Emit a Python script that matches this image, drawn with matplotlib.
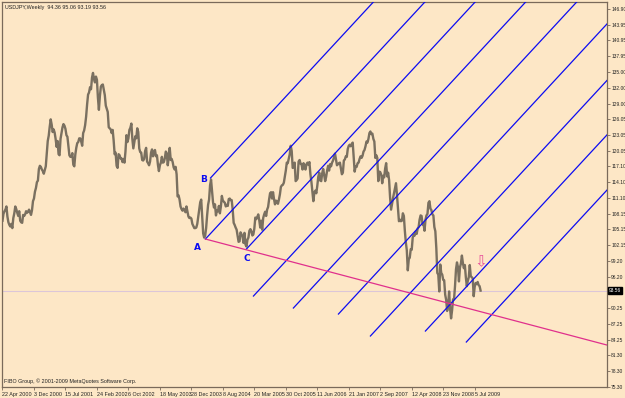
import numpy as np
import matplotlib
matplotlib.use('Agg')
import matplotlib.pyplot as plt

plt.rcParams['font.family'] = ['Liberation Sans Narrow', 'Liberation Sans', 'DejaVu Sans']

# weekly closes USDJPY, first bar = week of 22 Apr 2000
close_2000 = [106.8, 108.1,
              108.6, 108.9, 109.5, 107.6,
              106.5, 106.0, 105.7, 106.2,
              105.4, 107.3, 108.2, 109.5, 109.0,
              108.3, 107.7, 108.6, 106.8,
              106.5, 106.4, 107.9, 107.7, 108.0,
              108.6, 108.3, 108.5, 108.9,
              108.4, 107.9, 108.8, 110.5,
              111.0, 112.3, 113.0, 114.1, 114.4]
close_2001 = [116.6, 117.2, 117.0, 116.5,
              116.2, 115.7, 116.4, 117.1,
              119.6, 121.9, 122.9, 124.6, 126.0,
              125.0, 123.6, 124.1, 123.5,
              122.3, 120.8, 121.9, 119.4,
              119.2, 122.3, 123.4, 124.5,
              125.1, 124.8, 124.2, 123.0,
              122.7, 121.0, 119.2, 118.9, 118.9,
              119.6, 117.4, 117.1, 119.3,
              120.6, 121.5, 121.7, 122.4,
              122.4, 121.8, 121.0, 123.4, 123.9,
              124.9, 126.5, 128.8, 130.7, 131.1]
close_2002 = [132.1, 131.7, 133.9, 134.8,
              133.6, 133.0, 134.1, 133.5,
              130.1, 127.8, 130.4, 132.2, 132.5,
              132.6, 131.6, 130.6, 128.6,
              128.0, 127.4, 124.5, 124.3, 124.1,
              123.4, 124.0, 122.0, 119.4,
              119.7, 117.2, 116.8, 119.4,
              119.2, 118.6, 118.6, 117.9, 118.5,
              117.8, 119.9, 123.0, 121.7,
              122.4, 124.0, 124.4, 125.2,
              122.3, 120.5, 121.7, 122.8, 122.4,
              124.3, 123.6, 120.5, 119.8]
close_2003 = [119.7, 118.3, 118.2, 118.5,
              120.0, 120.6, 118.0, 117.7,
              117.3, 118.0, 119.7, 120.3, 119.0,
              119.7, 120.2, 119.0, 119.2,
              117.4, 116.2, 117.3, 117.8, 118.9,
              117.8, 117.9, 118.6, 119.9,
              119.6, 117.3, 118.8, 120.6,
              118.3, 118.5, 117.9, 116.9, 116.5,
              117.0, 115.6, 111.4, 111.6,
              110.8, 109.5, 109.0, 108.7,
              109.1, 108.8, 108.4, 109.5,
              108.5, 107.6, 107.3, 107.4, 107.2]
close_2004 = [106.2, 105.8, 105.4, 105.4,
              105.5, 106.2, 107.6, 109.0,
              110.3, 110.8, 107.7, 104.4, 103.6,
              103.9, 105.4, 107.8, 109.8,
              110.8, 113.5, 114.6, 112.4,
              110.3, 109.3, 109.9, 107.8, 108.8,
              108.6, 109.6, 108.2, 109.5, 111.5,
              110.6, 110.4, 110.2, 109.5,
              109.8, 109.6, 110.9, 111.0,
              110.7, 110.7, 108.9, 106.4, 106.0,
              105.5, 105.1, 104.0, 102.8,
              102.9, 104.6, 104.2, 103.9, 102.6]
close_2005 = [104.5, 102.3, 101.9, 103.2,
              103.6, 104.9, 105.2, 104.8,
              104.0, 104.2, 105.3, 107.4, 107.1,
              107.5, 108.0, 106.9, 105.5,
              106.8, 105.1, 107.3, 108.0,
              108.5, 107.7, 108.9, 109.4, 110.8,
              112.0, 112.2, 111.0, 112.2,
              110.9, 109.9, 110.6, 110.5,
              110.0, 110.8, 111.8, 113.2, 113.5,
              113.6, 114.0, 115.1, 116.3,
              117.8, 117.7, 118.6, 119.4,
              121.0, 120.0, 116.8, 117.0, 117.8]
close_2006 = [114.3, 114.5, 114.8, 118.0,
              118.3, 117.6, 117.5, 116.5,
              117.7, 117.2, 116.5, 117.5, 117.8,
              117.4, 117.9, 115.6, 114.2,
              112.3, 110.5, 112.1, 112.5,
              112.0, 113.4, 115.1, 115.9, 114.4,
              114.3, 115.8, 116.6, 115.5,
              114.3, 115.1, 116.3, 117.2,
              116.3, 117.5, 117.1, 117.8, 118.2,
              118.8, 119.5, 118.4, 117.3,
              117.5, 117.7, 117.8, 116.7,
              115.6, 115.9, 118.2, 118.4, 119.0]
close_2007 = [118.9, 120.4, 121.0, 121.2,
              120.9, 121.3, 121.6, 118.7,
              116.1, 117.1, 117.0, 117.7, 117.8,
              118.5, 119.0, 118.7, 119.1,
              119.9, 120.2, 120.9, 121.8,
              121.6, 122.3, 123.4, 123.7, 123.2,
              123.3, 122.3, 121.8, 118.7,
              119.2, 118.7, 114.3, 116.1, 116.0,
              115.5, 113.9, 115.3, 115.0,
              116.7, 117.7, 115.2, 115.9,
              114.5, 111.2, 108.9, 110.0,
              111.1, 112.0, 112.9, 113.9, 111.7]
close_2008 = [109.1, 106.7, 107.0, 106.7,
              106.8, 108.2, 107.7, 104.9,
              102.7, 101.2, 97.4, 99.5, 99.8,
              101.4, 101.3, 103.6, 104.1,
              104.0, 104.7, 104.3, 105.3, 105.6,
              107.0, 107.8, 107.7, 106.1,
              106.2, 104.9, 107.0, 107.8,
              108.1, 110.2, 110.5, 109.1, 108.8,
              108.0, 107.8, 105.6, 104.8,
              101.6, 96.9, 96.6, 93.4, 98.5,
              96.9, 96.6, 95.6, 95.5,
              92.8, 91.8, 89.7, 90.6]
close_2009 = [93.4, 90.1, 88.3, 89.8,
              91.9, 91.9, 94.4, 97.6,
              98.9, 98.0, 95.3, 97.9,
              98.7, 100.2, 98.8, 97.8,
              98.4, 96.1, 94.4, 95.4,
              96.1, 98.4, 96.3, 96.1,
              95.9, 92.5, 94.3, 95.0,
              94.8, 95.2, 94.6, 94.4,
              93.56]
closes = (close_2000 + close_2001 + close_2002 + close_2003 + close_2004 +
          close_2005 + close_2006 + close_2007 + close_2008 + close_2009)
weeks = np.arange(len(closes))

date_labels = ['22 Apr 2000', '3 Dec 2000', '15 Jul 2001', '24 Feb 2002',
               '6 Oct 2002', '18 May 2003', '28 Dec 2003', '8 Aug 2004',
               '20 Mar 2005', '30 Oct 2005', '11 Jun 2006', '21 Jan 2007',
               '2 Sep 2007', '12 Apr 2008', '23 Nov 2008', '5 Jul 2009']
date_weeks = [0, 32, 64, 96, 128, 160, 192, 224, 256, 288, 320, 352,
              384, 416, 448, 480]

price_ticks = [146.90, 143.95, 140.95, 137.95, 135.00, 132.00, 129.00,
               126.05, 123.05, 120.05, 117.10, 114.10, 111.10, 108.15,
               105.15, 102.15, 99.20, 96.20, 90.25, 87.25, 84.25, 81.30,
               78.30, 75.30]
last_price = 93.56

# parallel channel lines (start point, common slope per week)
fork_week = [211.4, 206.3, 248.0, 255.1, 295.7, 341.5, 374.0, 429.9, 471.5]
fork_price = [114.89, 103.33, 101.44, 92.53, 90.26, 89.12, 84.96, 85.90, 83.82]
fork_slope = 0.2013

# A-C base line
base_week = 206.3
base_price = 103.33
base_slope = -0.0492

pivot_names = ['A', 'B', 'C']
pivot_week = [198.2, 204.3, 248.0]
pivot_price = [101.8, 114.7, 99.7]

bg = '#fde7c6'
frame = '#7a6a5a'
fs = 3.9
fs_y = 3.5

fig = plt.figure(figsize=(6.25, 3.98), dpi=100, facecolor=bg)
ax = fig.add_axes([2 / 625, 1 - 387 / 398, 605 / 625, 385 / 398])
ax.set_facecolor(bg)
ax.set_xlim(-0.5, 614.5)
ax.set_ylim(75.30, 148.23)

ax.axhline(last_price, color='#dcc6d8', lw=0.8, zorder=1)
ax.plot(weeks, closes, color='#7a7060', lw=1.7, zorder=2)

for w, p in zip(fork_week, fork_price):
    xs = np.array([w, 700])
    ax.plot(xs, p + fork_slope * (xs - w), color='#0c0cf2', lw=0.9, zorder=3)

xs = np.array([base_week, 700])
ax.plot(xs, base_price + base_slope * (xs - base_week), color='#e0308c', lw=0.9, zorder=3)

for name, w, p in zip(pivot_names, pivot_week, pivot_price):
    ax.text(w, p, name, color='#0c0cf2', fontsize=6.5, fontweight='bold',
            ha='center', va='center', family='DejaVu Sans')

ax.text(485.8, 98.97, '\u21e9', color='#e8509a', fontsize=11, ha='center',
        va='center', family='DejaVu Sans')

for s in ax.spines.values():
    s.set_color(frame)
    s.set_linewidth(0.9)

ax.yaxis.tick_right()
ax.set_yticks(price_ticks)
ax.set_yticklabels(['%.2f' % v for v in price_ticks])
ax.tick_params(axis='y', length=2, width=0.6, color=frame, labelsize=fs_y,
               pad=1, labelcolor='#222222')

ax.set_xticks(date_weeks)
ax.set_xticklabels(date_labels, ha='left')
ax.tick_params(axis='x', length=2, width=0.6, color=frame, labelsize=fs,
               pad=1.5, labelcolor='#222222')

ax.text(1.003, last_price, '%.2f' % last_price, transform=ax.get_yaxis_transform(),
        fontsize=fs_y, color='white', va='center', ha='left',
        bbox=dict(boxstyle='square,pad=0.15', fc='black', ec='black'))

fig.text(5 / 625, 1 - 8 / 398, 'USDJPY,Weekly  94.36 95.06 93.19 93.56',
         fontsize=fs, color='#222222', va='center')
fig.text(4 / 625, 1 - 381 / 398, 'FIBO Group, \u00a9 2001-2009 MetaQuotes Software Corp.',
         fontsize=fs, color='#222222', va='center')

fig.savefig('out.png', dpi=100, facecolor=bg)
